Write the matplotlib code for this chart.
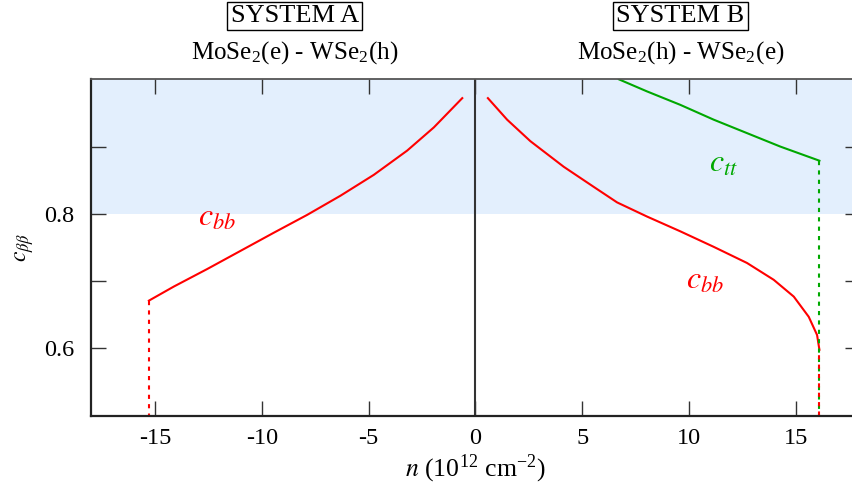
import matplotlib
matplotlib.use('Agg')
import matplotlib.pyplot as plt
import matplotlib.transforms as mtransforms

plt.rcParams['font.family'] = 'serif'
plt.rcParams['font.serif'] = ['Liberation Serif', 'DejaVu Serif']
plt.rcParams['mathtext.fontset'] = 'stix'

# System A, c_bb (negative density)
n_a = [-15.29, -14.12, -12.56, -11.0, -9.44, -7.88, -6.32, -4.76, -3.20, -1.95, -1.17, -0.62]
cbb_a = [0.671, 0.692, 0.718, 0.745, 0.772, 0.7985, 0.827, 0.858, 0.894, 0.9285, 0.954, 0.972]

# System B, c_bb
n_b = [0.58, 1.48, 2.57, 4.13, 5.54, 6.63, 8.03, 9.59, 11.15, 12.71, 13.96, 14.90, 15.60, 15.99, 16.10]
cbb_b = [0.972, 0.940, 0.908, 0.870, 0.840, 0.817, 0.796, 0.774, 0.751, 0.727, 0.702, 0.677, 0.647, 0.620, 0.598]

# System B, c_tt
n_tt = [6.71, 8.03, 9.59, 11.15, 12.71, 14.27, 16.10]
ctt_b = [1.0, 0.982, 0.962, 0.940, 0.920, 0.900, 0.879]

n_end_a = -15.29
n_end_b = 16.10

xticks = [-15, -10, -5, 0, 5, 10, 15]
xticklabels = ['-15', '-10', '-5', '0', '5', '10', '15']
yticks = [0.6, 0.7, 0.8, 0.9]
yticklabels = ['0.6', '', '0.8', '']

red = '#ff0000'
green = '#00a800'

fig = plt.figure(figsize=(8.52, 4.99), dpi=100)
ax = fig.add_axes([91 / 852, 1 - 415.7 / 499, (860 - 91) / 852, (415.7 - 79.3) / 499])

ax.axhspan(0.8, 1.0, color='#e3effd', zorder=0, lw=0)
ax.axvline(0, color='#333333', lw=1.5, zorder=1)

ax.plot(n_a, cbb_a, color=red, lw=1.5)
ax.plot([n_end_a, n_end_a], [cbb_a[0], 0.5], color=red, lw=1.5, ls=(0, (2, 2.5)))

ax.plot(n_b, cbb_b, color=red, lw=1.5)
ax.plot(n_tt, ctt_b, color=green, lw=1.5)
ax.plot([n_end_b, n_end_b], [ctt_b[-1], 0.5], color=green, lw=1.5, ls=(0, (2, 2.5)))
ax.plot([n_end_b, n_end_b], [cbb_b[-1], 0.5], color=red, lw=1.5, ls=(2, (2, 2.5)))

ax.text(-12.1, 0.794, r'$c_{bb}$', color=red, fontsize=23, ha='center', va='center')
ax.text(10.76, 0.70, r'$c_{bb}$', color=red, fontsize=23, ha='center', va='center')
ax.text(11.6, 0.873, r'$c_{tt}$', color=green, fontsize=23, ha='center', va='center')

ax.set_xlim(-18, 18)
ax.set_ylim(0.5, 1.0)
ax.set_xticks(xticks)
ax.set_xticklabels(xticklabels)
ax.set_yticks(yticks)
ax.set_yticklabels(yticklabels)
ax.tick_params(direction='in', length=11, width=1.0, color='#333333', labelsize=17.5,
               top=True, right=True, pad=9)
ax.tick_params(axis='y', pad=12)

for side in ['left', 'bottom']:
    ax.spines[side].set_linewidth(1.6)
    ax.spines[side].set_color('#222222')
ax.spines['top'].set_linewidth(1.3)
ax.spines['top'].set_color('#555555')

ax.set_xlabel(r'$n$ (10$^{\mathregular{12}}$ cm$^{\mathregular{-2}}$)', fontsize=18.5, labelpad=2)
ax.set_ylabel(r'$c_{\beta\beta}$', fontsize=17, labelpad=6)

trans = mtransforms.blended_transform_factory(ax.transData, fig.transFigure)
ax.text(-8.47, 1 - 16 / 499, 'SYSTEM A', transform=trans, fontsize=19, ha='center', va='center',
        bbox=dict(boxstyle='square,pad=0.12', fc='white', ec='black', lw=1.0))
ax.text(9.59, 1 - 16 / 499, 'SYSTEM B', transform=trans, fontsize=19, ha='center', va='center',
        bbox=dict(boxstyle='square,pad=0.12', fc='white', ec='black', lw=1.0))
ax.text(-8.47, 1 - 53 / 499, r'MoSe$_{\mathregular{2}}$(e) - WSe$_{\mathregular{2}}$(h)', transform=trans,
        fontsize=18, ha='center', va='center')
ax.text(9.59, 1 - 53 / 499, r'MoSe$_{\mathregular{2}}$(h) - WSe$_{\mathregular{2}}$(e)', transform=trans,
        fontsize=18, ha='center', va='center')

fig.savefig('out.png', dpi=100)
